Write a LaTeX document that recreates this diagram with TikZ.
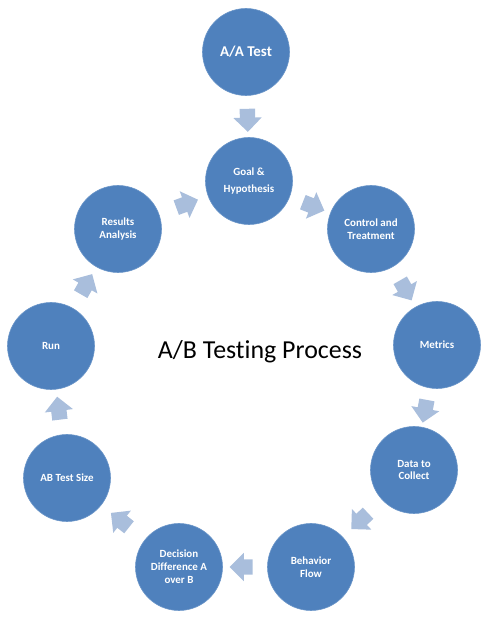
\documentclass[tikz,border=0pt]{standalone}
\usepackage{fontspec}
\setmainfont{Carlito}[Ligatures=NoCommon]
\usepackage{tikz}
\usetikzlibrary{shapes.arrows, calc}

\definecolor{stepblue}{HTML}{4F81BD}
\definecolor{stepline}{HTML}{6A95C8}
\definecolor{flowblue}{HTML}{A9BEDC}

\begin{document}
\begin{tikzpicture}[x=1bp, y=1bp,
  every node/.style={inner sep=0pt},
  stage/.style={circle, fill=stepblue, draw=stepline, line width=0.6pt, minimum size=87bp,
    text=white, align=center, font=\bfseries\fontsize{11}{13}\selectfont},
  flow/.style={single arrow, fill=flowblue, draw=none, minimum height=23bp,
    inner sep=7.5bp, single arrow head extend=6.5bp, sloped, allow upside down}]
  \useasboundingbox (0,0) rectangle (489,621);
  % stages of the cycle
  \node[stage, font=\bfseries\fontsize{15}{17}\selectfont] (aa) at (246,569) {A/A Test};
  \node[stage] (goal) at (249,440) {Goal \&\\[5pt]Hypothesis};
  \node[stage] (ctrl) at (371,392) {Control and\\Treatment};
  \node[stage] (metrics) at (437,276) {Metrics};
  \node[stage] (data) at (414,151) {Data to\\Collect};
  \node[stage] (behav) at (311,54) {Behavior\\Flow};
  \node[stage] (decis) at (179,54) {Decision\\Difference A\\over B};
  \node[stage] (size) at (67,143) {AB Test Size};
  \node[stage] (run) at (51,275) {Run};
  \node[stage] (result) at (118,392) {Results\\Analysis};
  % block arrows between stages
  \foreach \a/\b in {aa/goal, goal/ctrl, ctrl/metrics, metrics/data, data/behav,
                     behav/decis, decis/size, size/run, run/result, result/goal}
    \path (\a) -- node[flow] (\a-\b) {} (\b);
  \node[font=\fontsize{26}{30}\selectfont] (title) at (260,269) {A/B Testing Process};
\end{tikzpicture}
\end{document}
